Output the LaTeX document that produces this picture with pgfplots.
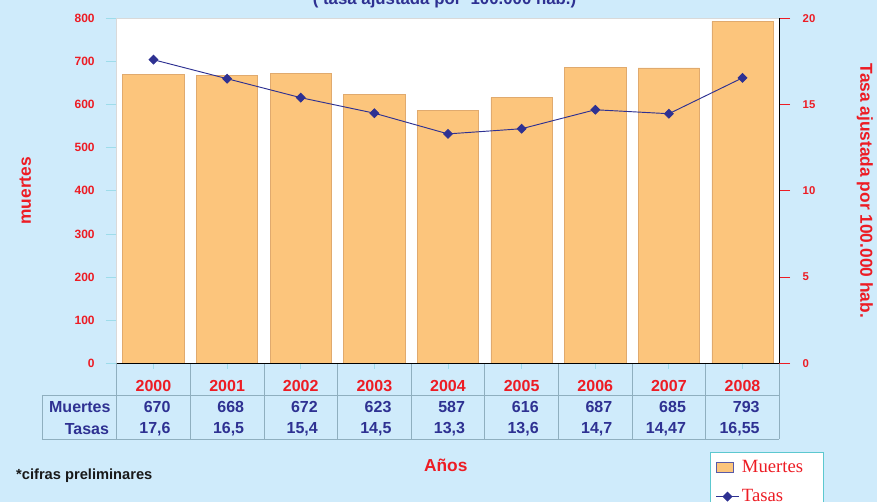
\documentclass[border=0pt]{standalone}
\usepackage{pgfplots}
\pgfplotsset{compat=1.18}
\usepackage{fontspec}
\setmainfont{Liberation Sans}
\newfontfamily\timesf{Liberation Serif}
\definecolor{bgblue}{HTML}{CFEBFB}
\definecolor{barfill}{HTML}{FCC57C}
\definecolor{baredge}{HTML}{E0AA6E}
\definecolor{navy}{HTML}{2E3192}
\definecolor{redt}{HTML}{ED1C24}
\definecolor{tickcyan}{HTML}{9EDCEA}
\definecolor{gridl}{HTML}{8FAFBF}
\definecolor{legbord}{HTML}{5CC8CF}
\tikzset{yr/.style={font=\bfseries\fontsize{12}{14}\selectfont, text=redt},
  tv/.style={font=\bfseries\fontsize{12}{14}\selectfont, text=navy, anchor=east, inner sep=0pt}}
\begin{document}
\begin{tikzpicture}
\clip (0,0) rectangle (657.75pt,376.5pt);
\fill[bgblue] (0,0) rectangle (657.75pt,376.5pt);
\begin{axis}[
  at={(87.5pt,104pt)}, anchor=south west,
  scale only axis, width=497pt, height=258.75pt,
  xmin=-0.5, xmax=8.5, ymin=0, ymax=800,
  axis background/.style={fill=white},
  axis line style={draw=black!15},
  ytick={0,100,...,800},
  ytick pos=left, xtick pos=bottom,
  xtick={0,...,8}, xticklabels={},
  xtick align=center, ytick align=outside,
  major tick length=8pt,
  y tick style={draw=tickcyan, line width=0.6pt},
  x tick style={draw=tickcyan, line width=0.6pt},
  /pgf/number format/assume math mode=true,
  yticklabel style={font=\bfseries\fontsize{9}{10}\selectfont, text=redt, xshift=-5pt},
  clip=false,
]
\addplot[ybar, bar width=46pt, fill=barfill, draw=baredge, line width=0.5pt]
  coordinates {(0,670) (1,668) (2,672) (3,623) (4,587) (5,616) (6,687) (7,685) (8,793)};
% data table grid
\draw[gridl, line width=0.5pt] (axis cs:-1.515,-73.5) -- (axis cs:8.5,-73.5);
\draw[gridl, line width=0.5pt] (axis cs:-1.515,-175.5) -- (axis cs:8.5,-175.5);
\draw[gridl, line width=0.5pt] (axis cs:-1.515,-73.5) -- (axis cs:-1.515,-175.5);
\pgfplotsinvokeforeach{-0.5,0.5,1.5,2.5,3.5,4.5,5.5,6.5,7.5,8.5}{
  \draw[gridl, line width=0.5pt] (axis cs:#1,0) -- (axis cs:#1,-175.5);
}
\node[yr] at (axis cs:0,-52.6) {2000};
\node[yr] at (axis cs:1,-52.6) {2001};
\node[yr] at (axis cs:2,-52.6) {2002};
\node[yr] at (axis cs:3,-52.6) {2003};
\node[yr] at (axis cs:4,-52.6) {2004};
\node[yr] at (axis cs:5,-52.6) {2005};
\node[yr] at (axis cs:6,-52.6) {2006};
\node[yr] at (axis cs:7,-52.6) {2007};
\node[yr] at (axis cs:8,-52.6) {2008};
\node[tv] at (axis cs:0.235,-101.3) {670};
\node[tv] at (axis cs:1.235,-101.3) {668};
\node[tv] at (axis cs:2.235,-101.3) {672};
\node[tv] at (axis cs:3.235,-101.3) {623};
\node[tv] at (axis cs:4.235,-101.3) {587};
\node[tv] at (axis cs:5.235,-101.3) {616};
\node[tv] at (axis cs:6.235,-101.3) {687};
\node[tv] at (axis cs:7.235,-101.3) {685};
\node[tv] at (axis cs:8.235,-101.3) {793};
\node[tv] at (axis cs:0.235,-152.3) {17,6};
\node[tv] at (axis cs:1.235,-152.3) {16,5};
\node[tv] at (axis cs:2.235,-152.3) {15,4};
\node[tv] at (axis cs:3.235,-152.3) {14,5};
\node[tv] at (axis cs:4.235,-152.3) {13,3};
\node[tv] at (axis cs:5.235,-152.3) {13,6};
\node[tv] at (axis cs:6.235,-152.3) {14,7};
\node[tv] at (axis cs:7.235,-152.3) {14,47};
\node[tv] at (axis cs:8.235,-152.3) {16,55};
\node[tv] at (axis cs:-0.58,-101.3) {Muertes};
\node[tv] at (axis cs:-0.60,-152.3) {Tasas};
\node[font=\bfseries\fontsize{13}{15}\selectfont, text=redt] at (axis cs:3.97,-235.9) {Años};
\node[font=\bfseries\fontsize{11}{13}\selectfont, text=black!90, anchor=west, inner sep=0pt] at (axis cs:-1.868,-261.3) {*cifras preliminares};
\node[font=\bfseries\fontsize{12.6}{14}\selectfont, text=navy, anchor=base] at (axis cs:3.953,832) {( tasa ajustada por\ \ 100.000 hab.)};
\node[font=\bfseries\fontsize{13}{15}\selectfont, text=redt, rotate=90] at (axis description cs:-0.138,0.5) {muertes};
\end{axis}
\begin{axis}[
  at={(87.5pt,104pt)}, anchor=south west,
  scale only axis, width=497pt, height=258.75pt,
  xmin=-0.5, xmax=8.5, ymin=0, ymax=20,
  axis y line*=right, axis x line*=bottom,
  axis line style={draw=black, line width=0.8pt},
  xtick=\empty,
  ytick={0,5,...,20},
  ytick align=outside, major tick length=8pt,
  y tick style={draw=redt, line width=0.6pt},
  /pgf/number format/assume math mode=true,
  yticklabel style={font=\bfseries\fontsize{8.5}{10}\selectfont, text=redt, xshift=6pt},
  clip=false,
  legend style={at={(0.895,-0.257)}, anchor=north west, fill=white, draw=legbord, line width=0.8pt,
    font=\timesf\fontsize{14}{16}\selectfont, text=redt, row sep=7pt, inner xsep=4pt, inner ysep=4pt},
  legend cell align=left,
]
\addlegendimage{legend image code/.code={\draw[fill=barfill, draw=navy!80, line width=0.6pt] (0pt,-3.75pt) rectangle (12.75pt,3.75pt);}}
\addlegendentry{Muertes\rule{9pt}{0pt}}
\addplot[navy, line width=0.7pt, mark=square*, mark size=2.3pt, mark options={rotate=45, fill=navy, draw=navy}]
  coordinates {(0,17.6) (1,16.5) (2,15.4) (3,14.5) (4,13.3) (5,13.6) (6,14.7) (7,14.47) (8,16.55)};
\addlegendentry{Tasas}
\node[font=\bfseries\fontsize{13}{15}\selectfont, text=redt, rotate=-90] at (axis description cs:1.129,0.5) {Tasa ajustada por 100.000 hab.};
\end{axis}
\end{tikzpicture}
\end{document}
